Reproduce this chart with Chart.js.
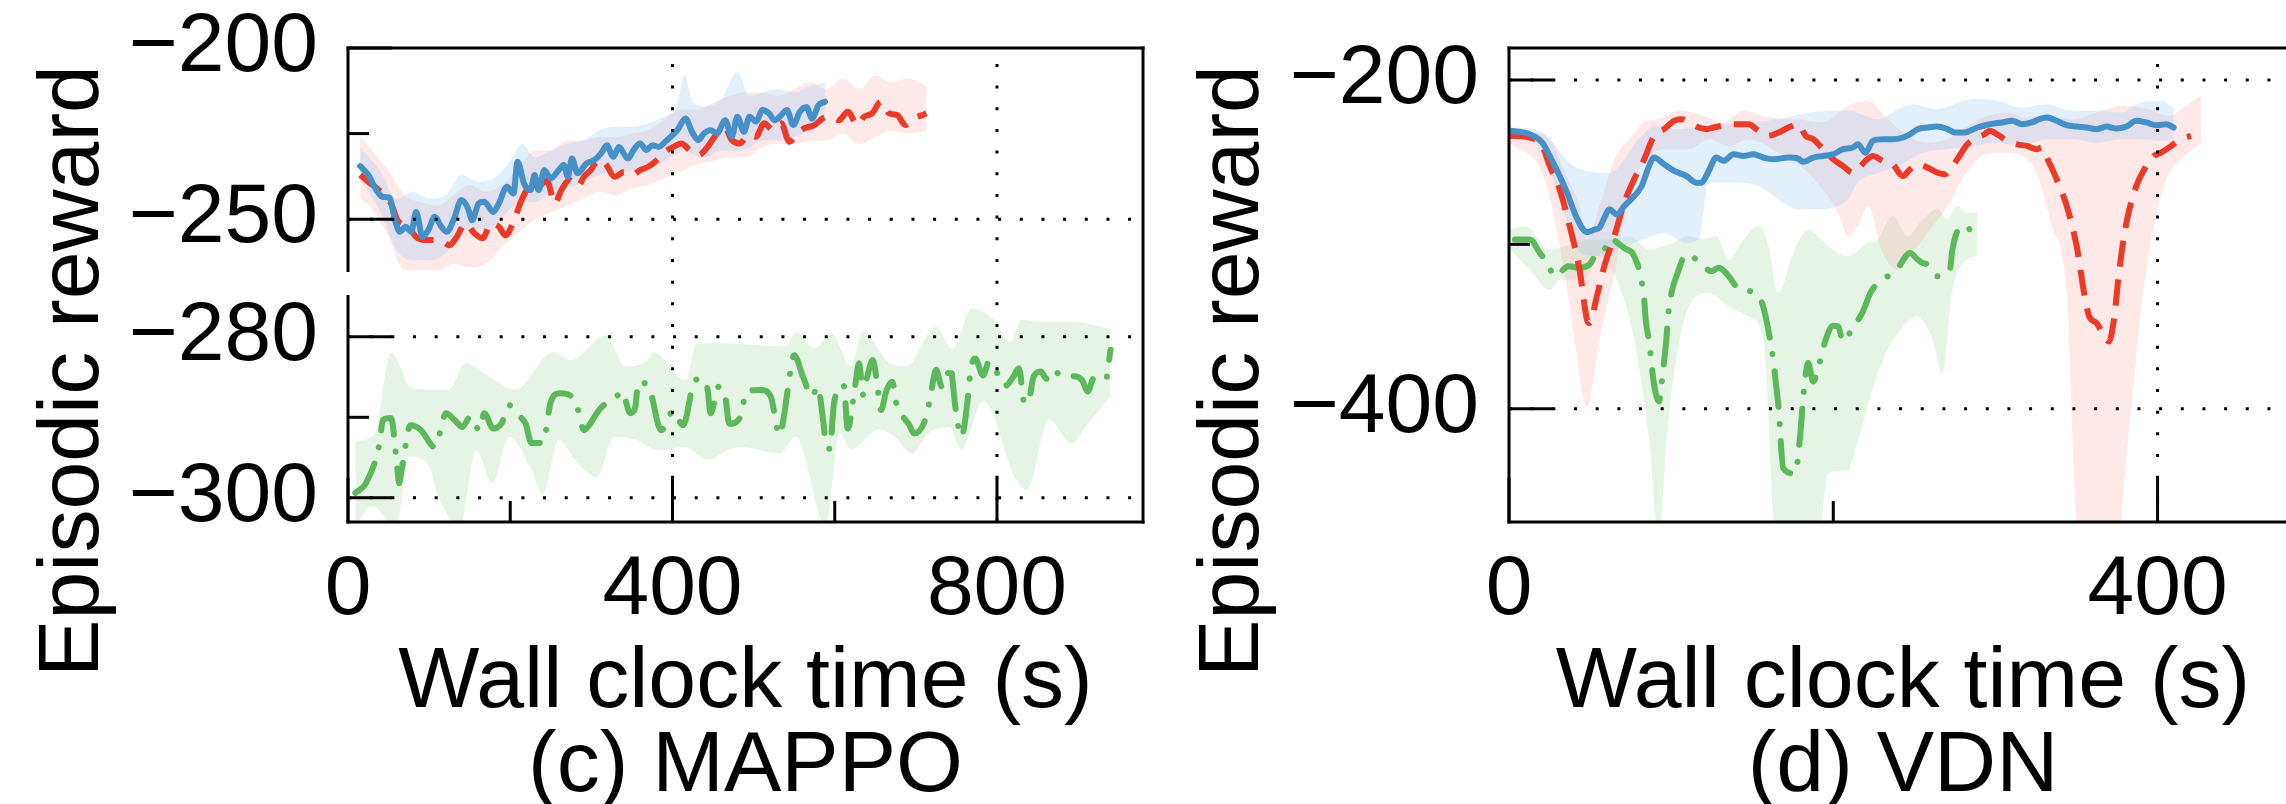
<!DOCTYPE html>
<html>
<head>
<meta charset="utf-8">
<title>Episodic reward vs wall clock time</title>
<script src="https://cdn.jsdelivr.net/npm/chart.js@4.4.1/dist/chart.umd.min.js"></script>
<style>
  html, body { margin: 0; padding: 0; background: #fff; overflow: hidden; }
  #fig { position: relative; width: 2286px; height: 804px; overflow: hidden; background: #fff; }
  #fig canvas { position: absolute; top: 0; }
  #c-mappo { left: 0; }
  #c-vdn { left: 1160px; }
</style>
</head>
<body>
<div id="fig">
  <canvas id="c-mappo" width="1160" height="804"></canvas>
  <canvas id="c-vdn" width="1240" height="804"></canvas>
</div>
<script>
// ---- (c) MAPPO ----
const mappoXRange = [0, 980];
const mappoTopRange = [-265, -200];
const mappoBotRange = [-303, -275];
const mappoXTicks = [0, 400, 800];
const mappoXMinor = [200, 600];
const mappoTopTicks = [-200, -250];
const mappoTopMinor = [-225];
const mappoBotTicks = [-280, -300];
const mappoBotMinor = [-290];

const mappoBlueT = [15,25,35,43,51,58,64,71,78,84,92,99,107,115,122,130,140,148,153,161,168,179,186,196,204,209,217,225,230,235,242,250,258,266,271,276,283,294,304,312,319,327,334,345,352,360,368,375,383,391,398,406,416,424,432,439,447,455,465,473,480,488,495,503,511,519,526,534,541,549,557,565,572,580,588];
const mappoBlueV = [-234.5,-237.1,-241.5,-243.5,-243.7,-250.3,-253.7,-252.2,-253.7,-247.9,-255.2,-253.2,-249.3,-252.2,-253.7,-250.3,-244.4,-246.9,-250.3,-245.4,-244.9,-247.9,-245.4,-240.5,-242.5,-233.2,-239.6,-241.5,-237.1,-241.5,-235.7,-238.1,-236.2,-234.2,-237.6,-232.3,-236.6,-233.7,-232.7,-230.8,-228.4,-231.8,-228.9,-232.3,-229.8,-227.9,-229.8,-228.4,-228.9,-227.4,-225.9,-224.0,-220.6,-224.5,-226.9,-224.9,-224.0,-224.9,-221.1,-225.9,-220.1,-224.5,-220.1,-221.5,-218.1,-219.1,-221.1,-219.6,-218.1,-222.5,-218.6,-217.2,-220.6,-216.7,-215.7];
const mappoBlueBandT = [15,40,60,80,100,120,140,160,180,200,215,230,250,270,290,310,330,350,370,390,405,415,425,440,460,480,495,510,530,550,570,588];
const mappoBlueHi = [-229,-236,-244,-242,-244,-243,-237,-239,-238,-233,-228,-232,-230,-228,-227,-224,-223,-223,-222,-220,-217,-208,-216,-217,-215,-207,-214,-213,-212,-213,-211,-210];
const mappoBlueLo = [-238,-248,-259,-262,-262,-260,-254,-253,-252,-247,-245,-245,-242,-241,-239,-237,-236,-236,-235,-233,-231,-229,-231,-232,-230,-230,-229,-227,-227,-226,-224,-222];

const mappoRedT = [15,28,38,46,53,61,74,84,94,110,117,125,133,145,156,166,176,186,194,204,214,225,235,245,255,263,273,283,291,299,309,317,329,340,350,360,370,381,391,401,411,421,432,442,452,465,473,483,493,503,513,524,534,544,554,562,575,585,595,605,616,628,636,646,657,667,677,687,697,708,713];
const mappoRedV = [-237.1,-239.6,-241.5,-243.9,-245.4,-250.3,-252.2,-255.2,-256.1,-256.1,-256.6,-257.6,-255.6,-251.3,-254.2,-255.6,-251.3,-252.2,-254.7,-250.8,-244.4,-240.5,-240.5,-238.6,-245.4,-241.5,-238.6,-240.5,-237.6,-235.7,-232.7,-233.7,-237.6,-236.2,-237.1,-235.7,-234.7,-232.7,-230.3,-228.9,-227.9,-229.8,-231.3,-229.3,-225.9,-223.5,-226.9,-227.9,-225.4,-225.9,-222.0,-224.0,-222.0,-227.4,-224.9,-223.5,-222.5,-220.6,-220.1,-221.1,-218.6,-222.5,-220.1,-219.1,-215.7,-219.1,-219.6,-222.5,-220.6,-219.6,-219.1];
const mappoRedBandT = [15,30,50,70,90,110,130,150,170,190,210,230,250,270,290,310,330,350,370,390,410,430,450,470,490,510,530,550,570,590,610,630,650,670,690,713];
const mappoRedHi = [-226,-230,-236,-243,-245,-246,-243,-240,-242,-240,-235,-230,-230,-227,-227,-226,-226,-225,-224,-221,-218,-218,-216,-214,-213,-213,-214,-212,-210,-212,-209,-212,-208,-210,-209,-211];
const mappoRedLo = [-244,-247,-255,-265,-265,-265,-263,-264,-263,-258,-254,-250,-248,-246,-244,-242,-243,-241,-240,-238,-236,-234,-233,-232,-232,-229,-228,-228,-227,-227,-225,-228,-226,-224,-225,-224];

const mappoGreenT = [9,22,39,43,53,60,63,66,77,90,107,121,131,141,151,162,168,179,189,199,212,219,226,240,250,261,280,291,297,311,331,338,348,354,358,372,386,401,413,426,434,443,447,457,465,470,484,491,509,521,532,538,542,550,561,572,579,586,589,594,599,611,616,625,630,635,640,647,652,657,664,671,676,684,691,698,713,718,725,732,737,742,749,756,765,767,773,783,790,796,810,820,827,834,840,845,854,861,868,881,895,905,912,919,934,940];
const mappoGreenV = [-299.4,-298.2,-293.2,-290.3,-290.1,-295.5,-298.2,-296.6,-291.0,-291.6,-293.7,-289.5,-290.3,-291.2,-289.9,-291.6,-289.5,-291.4,-290.8,-288.5,-289.9,-290.8,-293.2,-293.2,-288.1,-287.0,-287.9,-291.6,-291.0,-288.9,-287.4,-286.8,-289.5,-288.8,-285.6,-286.6,-291.6,-289.2,-291.0,-285.8,-285.2,-286.4,-289.5,-286.2,-287.4,-290.8,-289.9,-286.8,-286.6,-287.4,-292.2,-289.5,-286.6,-282.3,-285.0,-287.4,-286.2,-290.6,-293.2,-293.9,-288.3,-286.0,-291.4,-286.2,-283.3,-287.2,-285.0,-282.9,-285.6,-289.1,-286.6,-285.6,-288.3,-289.9,-290.8,-292.0,-289.9,-287.4,-284.1,-286.2,-285.8,-283.5,-288.9,-292.4,-286.8,-284.5,-282.7,-284.8,-283.1,-283.7,-286.1,-285.0,-283.9,-288.3,-287.6,-285.0,-284.3,-285.2,-284.1,-284.9,-284.9,-285.4,-286.8,-285.2,-285.4,-281.6];
const mappoGreenHiT = [9,33,53,80,124,145,172,206,253,274,318,342,369,376,416,430,453,498,539,552,576,596,620,634,668,688,725,745,769,796,817,830,851,892,940];
const mappoGreenHi = [-293,-292,-282,-286.5,-286.6,-283.3,-284.8,-286.6,-281.9,-282.9,-279.8,-283.7,-282.9,-281.9,-285.4,-280.8,-280.8,-281,-281.2,-279.5,-281.4,-279.6,-283.7,-279.4,-283.3,-283.7,-278.8,-281.5,-276.5,-277.9,-280.6,-277.9,-278.1,-278.1,-279];
const mappoGreenLoT = [9,29,59,76,100,110,138,158,178,199,226,240,260,280,307,328,355,382,416,443,470,484,532,552,589,606,620,654,674,695,715,742,756,783,824,837,864,892,912,940];
const mappoGreenLo = [-303.5,-301,-303.5,-294.9,-296,-299.5,-303.5,-294.1,-298.2,-292.4,-296.5,-299.5,-292.8,-295.3,-297.4,-292.4,-292.8,-294.1,-293.7,-295.3,-294,-293.7,-294.5,-292.4,-303.5,-292,-294,-291.5,-292.4,-294.5,-292,-291.2,-294,-287.9,-297.8,-299,-290.3,-293.2,-290.8,-287.4];

// ---- (d) VDN ----
const vdnXRange = [0, 486];
const vdnYRange = [-469, -180.5];
const vdnXTicks = [0, 400];
const vdnXMinor = [200];
const vdnYTicks = [-200, -400];
const vdnYMinor = [-300];

const vdnBlueT = [0.6,12.8,20.5,25.1,31.2,35.8,40.4,45,48.1,52.7,55.8,58.8,61.9,66.5,71.1,77.2,81.8,86.4,89.5,95.6,101.8,109.4,115.6,118.6,123.2,127.8,132.4,138.5,144.7,150.8,156.9,163.1,172.3,178.4,181.5,187.6,193.7,199.9,206,212.1,215.2,219.8,224.4,230.5,236.7,242.8,247.4,252,258.1,264.3,270.4,275,281.1,288.8,296.4,304.1,310.3,316.4,322.5,327.1,331.7,337.8,344,350.1,356.2,362.4,368.5,374.6,380.8,386.9,393,399.2,405.3,409.9];
const vdnBlueV = [-230.9,-233.0,-238.1,-246.2,-258.4,-268.6,-280.8,-289.9,-292.6,-291.0,-289.9,-283.8,-278.7,-281.8,-276.7,-270.6,-264.5,-252.3,-247.2,-251.3,-255.3,-258.4,-262.5,-262.5,-255.3,-247.2,-249.2,-245.2,-246.2,-245.2,-247.2,-248.2,-247.2,-247.8,-249.8,-247.2,-246.2,-245.2,-242.1,-241.1,-239.1,-244.2,-237.0,-236.0,-236.0,-235.0,-233.0,-229.9,-228.9,-228.3,-229.9,-231.9,-231.9,-228.9,-226.9,-225.8,-224.8,-226.9,-225.8,-223.8,-222.8,-224.8,-227.5,-228.3,-228.9,-229.9,-228.3,-229.5,-228.3,-224.8,-225.8,-227.5,-226.9,-228.9];
const vdnBlueHiT = [0.6,19,40,62,80,90,102,123,148,166,185,209,228,240,249,264,286,301,316,332,347,362,378,387,402,410];
const vdnBlueHi = [-228.9,-231,-252.3,-256.4,-236,-227.9,-229.9,-227.9,-225.8,-223.8,-219.7,-218.7,-223.8,-217.7,-214.7,-217.7,-211.6,-212.6,-216.7,-214.7,-218.7,-218.7,-219.7,-214.7,-212.6,-216.7];
const vdnBlueLoT = [0.6,19,31,43.5,56,71,83,96,108,117,123,138,154,166,178,194,203,209,215,228,240,255,270,286,301,316,332,347,362,378,393,402,410];
const vdnBlueLo = [-233,-242,-270.6,-305,-307,-301,-297,-293,-299,-297,-262.5,-262.5,-264.5,-272.6,-278.7,-278.7,-276.7,-272.6,-262.5,-256.4,-252.3,-244.2,-242.1,-240.1,-238.1,-240.1,-236,-236,-238.1,-236,-236,-237,-236];

const vdnRedT = [0.6,12.8,20.5,25.1,31.2,37.4,43.5,48.1,49.6,54.2,58.8,65,71.1,77.2,83.4,89.5,95.6,101.8,106.4,112.5,117.1,121.7,126.3,130.9,135.5,141.6,147.8,153.9,160,166.1,172.3,178.4,183,187.6,193.7,199.9,206,212.1,215.2,219.8,224.4,230.5,236.7,242.8,247.4,252,258.1,264.3,268.9,272,276.5,282.7,288.8,293.4,296.4,301.1,307.2,313.3,319.4,325.6,328.6,331.7,337.8,344,350.1,354.7,357.8,362.4,367,370,373.1,376.2,380.8,386.9,393,397.6,402.2,408.4,414.5,420.6];
const vdnRedV = [-234.0,-235.0,-240.1,-252.3,-266.5,-288.9,-315.4,-345.9,-347.9,-331.6,-313.3,-295.0,-274.7,-260.4,-248.2,-234.0,-229.9,-224.8,-223.8,-226.9,-228.9,-229.9,-228.9,-227.9,-226.9,-226.9,-226.9,-230.9,-234.0,-232.0,-228.9,-226.9,-234.0,-236.0,-242.1,-248.2,-252.3,-256.4,-254.3,-249.2,-246.2,-249.2,-251.3,-258.4,-254.3,-251.3,-253.3,-256.4,-257.4,-254.3,-248.2,-239.1,-235.0,-233.0,-230.9,-233.0,-237.0,-239.1,-240.1,-242.1,-241.1,-247.2,-260.4,-276.7,-301.1,-329.6,-343.8,-347.9,-356.0,-359.1,-345.9,-317.4,-286.9,-264.5,-252.3,-246.2,-244.2,-240.1,-236.0,-234.0];
const vdnRedHiT = [0.6,12.8,25.1,34.3,43.5,48.1,55.8,65,74.2,83.4,92.6,104.8,117.1,132.4,144.7,160,178.4,193.7,209.1,221.3,233.6,245.9,258.1,270.4,282.7,294.9,307.2,319.4,331.7,347,362.4,377.7,393,408.4,417.6,426.8];
const vdnRedHi = [-232,-232,-236,-256.4,-276.7,-297,-276.7,-248.2,-236,-225.8,-223.8,-218.7,-220.8,-225.8,-218.7,-222.8,-223.8,-225.8,-215.7,-212.6,-223.8,-234,-238.1,-236,-227.9,-221.8,-219.7,-222.8,-220.8,-223.8,-219.7,-215.7,-217.7,-221.8,-215.7,-209.6];
const vdnRedLoT = [0.6,22,34.3,40.4,48.1,55.8,65,74.2,86.4,98.7,111,123.2,135.5,147.8,166.1,184.5,202.9,209.1,215.2,221.3,230.5,239.7,248.9,258.1,270.4,279.6,288.8,298,307.2,319.4,325.6,334.8,344,350.1,360,372,383.8,390,396.1,405.3,414.5,426.8];
const vdnRedLo = [-238.1,-260.4,-317.4,-358.1,-398.8,-358.1,-317.4,-270.6,-246.2,-242.1,-242.1,-236,-240.1,-236,-244.2,-256.4,-280.8,-295,-288.9,-276.7,-305.2,-315.4,-305.2,-293,-276.7,-260.4,-248.2,-244.2,-244.2,-248.2,-256.4,-288.9,-329.6,-468,-500,-500,-398.8,-337.7,-297,-260.4,-248.2,-238.1];

const vdnGreenT = [3.6,12.8,19,23.6,28.2,36.8,43.5,49.6,54.2,58.8,61.9,71.7,77.2,83.4,84.3,86.4,89.5,92.6,94.1,97.2,98.1,100.2,103.3,109.4,117.1,124.8,129.4,135.5,140.1,144.7,154.8,158.5,163.1,164.6,166.1,169.2,176.3,179.9,180.9,182.1,184.5,187.6,191.6,195.3,199.9,203,206,211.5,218.3,222.9,227.5,232.1,239.1,247.4,252,255.1,258.1,264.3,271.9,273.5,278,282.7,285.7,288.8];
const vdnGreenV = [-297.0,-297.0,-305.2,-311.3,-319.4,-313.3,-314.3,-312.3,-305.2,-303.1,-296.6,-302.7,-307.2,-333.7,-345.9,-359.1,-385.5,-395.7,-384.5,-356.0,-343.8,-329.6,-319.4,-306.2,-310.3,-316.4,-314.3,-319.4,-325.5,-327.6,-332.7,-344.9,-371.3,-384.5,-397.8,-436.4,-439.5,-413.0,-399.8,-386.6,-372.3,-383.5,-371.9,-358.1,-349.5,-349.9,-359.1,-351.6,-340.8,-329.6,-323.5,-320.4,-315.4,-305.2,-309.3,-311.3,-312.3,-319.4,-315.4,-303.1,-289.9,-288.9,-294.0,-293.4];
const vdnGreenHiT = [0.6,9.8,25.1,49.6,65,74.2,86.4,95.6,101.8,111,120.2,127.8,135.5,144.7,153.9,160,166.1,175.3,184.5,196.8,209.1,221.3,227.5,236.7,245.9,255.1,264.3,270.4,276.5,282.7,288.8];
const vdnGreenHi = [-291,-288.9,-303.1,-297,-297,-295,-303.1,-301.1,-299.1,-295,-297,-295,-309.3,-297,-288.9,-301.1,-329.6,-305.2,-291,-301.1,-307.2,-299.1,-297,-282.8,-295,-284.8,-278.7,-284.8,-276.7,-280.8,-280.8];
const vdnGreenLoT = [0.6,12.8,25.1,31.2,46.6,55.8,68,77.2,86.4,92.6,97.2,101.8,111,123.2,135.5,147.8,156.9,164.6,190.7,196.8,209.1,215.2,227.5,239.7,252,261.2,267.3,273.5,282.7,288.8];
const vdnGreenLo = [-303.1,-315.4,-327.6,-321.5,-321.5,-308,-325.5,-358.1,-419.1,-480,-419.1,-378.4,-337.7,-329.6,-337.7,-343.8,-358.1,-480,-480,-439.5,-437.4,-419.1,-378.4,-354,-343.8,-358.1,-378.4,-327.6,-309.3,-307.2];

// ---- styling ----
const FONT = '"Liberation Sans", Arial, Helvetica, sans-serif';
const BLUE = '#4591c7', RED = '#ec3a28', GREEN = '#5cb85a';
const BLUE_BAND = 'rgba(150,200,245,0.28)';
const RED_BAND = 'rgba(250,150,150,0.22)';
const GREEN_BAND = 'rgba(150,210,150,0.24)';
const MAJOR = 44, MINOR = 21;

const fmt = v => (v < 0 ? '\u2212' + Math.abs(v) : String(v));
const pts = (t, v) => t.map((x, i) => ({ x, y: v[i] }));

function lineSet(t, v, color, dash, cap, axis) {
  return {
    data: pts(t, v), yAxisID: axis, order: 0,
    borderColor: color, borderWidth: 6, borderDash: dash, borderCapStyle: cap,
    borderJoinStyle: 'round', pointRadius: 0, fill: false,
    cubicInterpolationMode: 'monotone'
  };
}

// upper edge, then lower edge filled back up to it
function bandSets(tHi, hi, tLo, lo, color, axis) {
  const common = { yAxisID: axis, order: 10, borderWidth: 0, pointRadius: 0, cubicInterpolationMode: 'monotone' };
  return [
    Object.assign({ data: pts(tHi, hi), fill: false, backgroundColor: 'transparent' }, common),
    Object.assign({ data: pts(tLo, lo), fill: '-1', backgroundColor: color }, common)
  ];
}

function tickFont() { return { family: FONT, size: 84, lineHeight: 1 }; }

function xScale(range, ticks) {
  return {
    type: 'linear', position: 'bottom', min: range[0], max: range[1],
    grid: { display: false, drawTicks: false }, border: { display: false },
    ticks: { font: tickFont(), color: '#000', padding: 27, maxRotation: 0, autoSkip: false, callback: fmt },
    afterBuildTicks: s => { s.ticks = ticks.map(v => ({ value: v })); },
    afterFit: s => { s.height = 282; s.paddingLeft = 0; s.paddingRight = 0; }
  };
}

function yScale(range, ticks, width, extra) {
  return Object.assign({
    type: 'linear', axis: 'y', position: 'left', min: range[0], max: range[1],
    grid: { display: false, drawTicks: false }, border: { display: false },
    ticks: { font: tickFont(), color: '#000', padding: 30, autoSkip: false, callback: fmt },
    afterBuildTicks: s => { s.ticks = ticks.map(v => ({ value: v })); },
    afterFit: s => { s.width = width; s.paddingTop = 0; s.paddingBottom = 0; }
  }, extra || {});
}

function seg(ctx, x1, y1, x2, y2) {
  ctx.beginPath(); ctx.moveTo(x1, y1); ctx.lineTo(x2, y2); ctx.stroke();
}

// box, inward ticks, dotted grid and the titles
function decor(spec) {
  return {
    id: 'decor',
    afterDatasetsDraw(chart) {
      const ctx = chart.ctx, a = chart.chartArea, xs = chart.scales.x;
      ctx.save();
      ctx.strokeStyle = '#000';
      ctx.lineWidth = 3;

      ctx.setLineDash([3, 18.67]);
      ctx.lineCap = 'butt';
      spec.x.major.forEach(v => {
        if (v <= xs.min || v >= xs.max) return;
        const px = xs.getPixelForValue(v);
        seg(ctx, px, a.bottom, px, a.top);
      });
      spec.y.forEach(ax => {
        const ys = chart.scales[ax.id];
        ax.major.forEach(v => {
          if (v <= ys.min || v >= ys.max) return;
          const py = ys.getPixelForValue(v);
          seg(ctx, a.left, py, a.right, py);
        });
      });
      ctx.setLineDash([]);

      ctx.lineCap = 'square';
      seg(ctx, a.left, a.top, a.right, a.top);
      seg(ctx, a.right, a.top, a.right, a.bottom);
      seg(ctx, a.left, a.bottom, a.right, a.bottom);
      spec.y.forEach(ax => {
        const ys = chart.scales[ax.id];
        seg(ctx, a.left, ys.top, a.left, ys.bottom);
      });

      ctx.lineCap = 'butt';
      const xt = (list, len) => list.forEach(v => {
        const px = xs.getPixelForValue(v);
        seg(ctx, px, a.bottom, px, a.bottom - len);
      });
      xt(spec.x.major, MAJOR);
      xt(spec.x.minor, MINOR);
      spec.y.forEach(ax => {
        const ys = chart.scales[ax.id];
        const yt = (list, len) => list.forEach(v => {
          const py = ys.getPixelForValue(v);
          seg(ctx, a.left, py, a.left + len, py);
        });
        yt(ax.major, MAJOR);
        yt(ax.minor, MINOR);
      });
      ctx.restore();
    },
    afterDraw(chart) {
      const ctx = chart.ctx, a = chart.chartArea;
      const cx = (a.left + a.right) / 2;
      ctx.save();
      ctx.fillStyle = '#000';
      ctx.font = '86px ' + FONT;
      ctx.textAlign = 'center';
      ctx.textBaseline = 'alphabetic';
      ctx.fillText(spec.xTitle, cx, 707);
      ctx.fillText(spec.caption, cx, 791);
      ctx.translate(98, 371);
      ctx.rotate(-Math.PI / 2);
      ctx.fillText(spec.yTitle, 0, 0);
      ctx.restore();
    }
  };
}

const baseOptions = {
  responsive: false,
  animation: false,
  devicePixelRatio: 1,
  events: [],
  plugins: { legend: { display: false }, tooltip: { enabled: false } }
};

// MAPPO: split y axis, red/blue on the upper part, green on the lower part
new Chart(document.getElementById('c-mappo'), {
  type: 'line',
  data: {
    datasets: [
      lineSet(mappoBlueT, mappoBlueV, BLUE, [], 'round', 'yTop'),
      lineSet(mappoRedT, mappoRedV, RED, [26, 13], 'butt', 'yTop'),
      lineSet(mappoGreenT, mappoGreenV, GREEN, [36, 17, 0.1, 17], 'round', 'yBot'),
      ...bandSets(mappoBlueBandT, mappoBlueHi, mappoBlueBandT, mappoBlueLo, BLUE_BAND, 'yTop'),
      ...bandSets(mappoRedBandT, mappoRedHi, mappoRedBandT, mappoRedLo, RED_BAND, 'yTop'),
      ...bandSets(mappoGreenHiT, mappoGreenHi, mappoGreenLoT, mappoGreenLo, GREEN_BAND, 'yBot')
    ]
  },
  options: Object.assign({}, baseOptions, {
    layout: { padding: { top: 48, right: 17, bottom: 0, left: 0 } },
    scales: {
      x: xScale(mappoXRange, mappoXTicks),
      yTop: yScale(mappoTopRange, mappoTopTicks, 348, { stack: 'mappo', stackWeight: 222.5, weight: 3 }),
      yGap: {
        type: 'linear', axis: 'y', position: 'left', min: 0, max: 1,
        stack: 'mappo', stackWeight: 26, weight: 2,
        grid: { display: false, drawTicks: false }, border: { display: false },
        ticks: { display: false },
        afterFit: s => { s.width = 348; s.paddingTop = 0; s.paddingBottom = 0; }
      },
      yBot: yScale(mappoBotRange, mappoBotTicks, 348, { stack: 'mappo', stackWeight: 225.5, weight: 1 })
    }
  }),
  plugins: [decor({
    x: { major: mappoXTicks, minor: mappoXMinor },
    y: [
      { id: 'yTop', major: mappoTopTicks, minor: mappoTopMinor },
      { id: 'yBot', major: mappoBotTicks, minor: mappoBotMinor }
    ],
    xTitle: 'Wall clock time (s)',
    yTitle: 'Episodic reward',
    caption: '(c) MAPPO'
  })]
});

// VDN
new Chart(document.getElementById('c-vdn'), {
  type: 'line',
  data: {
    datasets: [
      lineSet(vdnBlueT, vdnBlueV, BLUE, [], 'round', 'y'),
      lineSet(vdnRedT, vdnRedV, RED, [26, 13], 'butt', 'y'),
      lineSet(vdnGreenT, vdnGreenV, GREEN, [36, 17, 0.1, 17], 'round', 'y'),
      ...bandSets(vdnBlueHiT, vdnBlueHi, vdnBlueLoT, vdnBlueLo, BLUE_BAND, 'y'),
      ...bandSets(vdnRedHiT, vdnRedHi, vdnRedLoT, vdnRedLo, RED_BAND, 'y'),
      ...bandSets(vdnGreenHiT, vdnGreenHi, vdnGreenLoT, vdnGreenLo, GREEN_BAND, 'y')
    ]
  },
  options: Object.assign({}, baseOptions, {
    layout: { padding: { top: 48, right: 103, bottom: 0, left: 0 } },
    scales: {
      x: xScale(vdnXRange, vdnXTicks),
      y: yScale(vdnYRange, vdnYTicks, 349)
    }
  }),
  plugins: [decor({
    x: { major: vdnXTicks, minor: vdnXMinor },
    y: [{ id: 'y', major: vdnYTicks, minor: vdnYMinor }],
    xTitle: 'Wall clock time (s)',
    yTitle: 'Episodic reward',
    caption: '(d) VDN'
  })]
});
</script>
</body>
</html>
